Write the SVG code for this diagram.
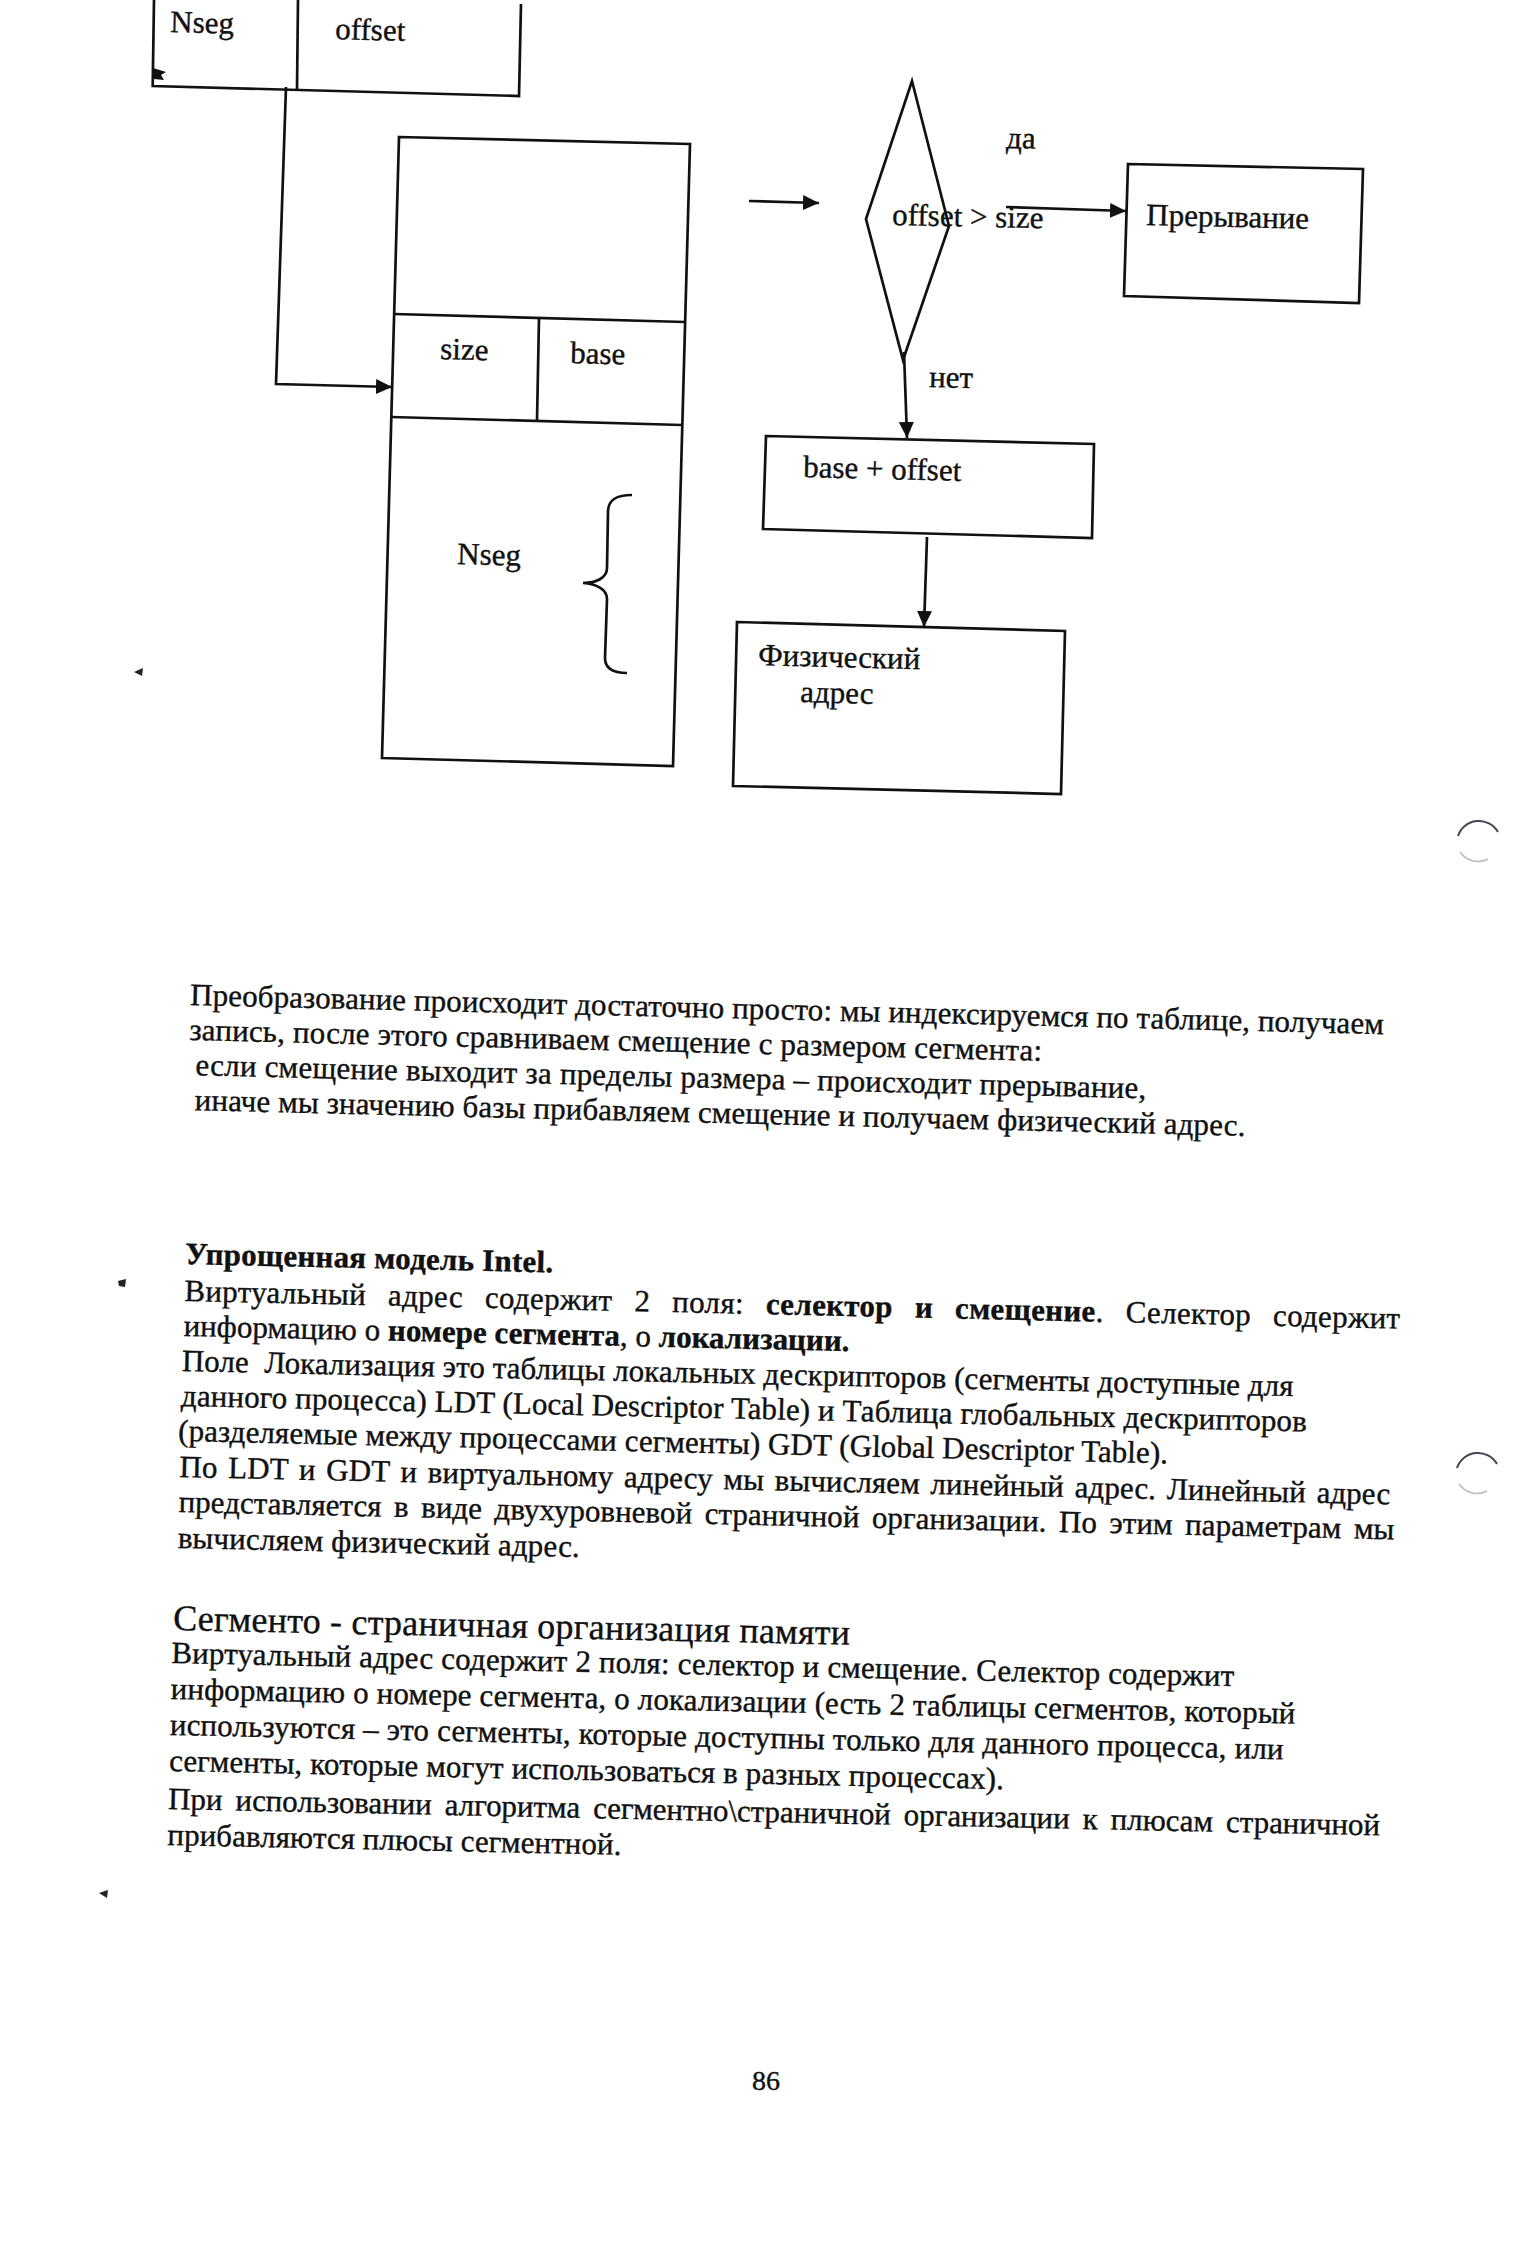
<svg xmlns="http://www.w3.org/2000/svg" width="1517" height="2241" viewBox="0 0 1517 2241">
<style>
.t{font-family:"Liberation Serif","Times New Roman","DejaVu Serif",serif;font-size:31px;fill:#111;stroke:#111;stroke-width:0.4px}
.b{font-weight:bold}
.h{font-size:36px}
.ln{fill:none;stroke:#111;stroke-width:2.7;stroke-linejoin:miter}
.pg{font-family:"Liberation Serif","Times New Roman",serif;font-size:28px;fill:#111;stroke:#111;stroke-width:0.4px}
</style>
<defs>
<marker id="arr" viewBox="0 0 16 15" refX="16" refY="7.5" markerWidth="16" markerHeight="15" markerUnits="userSpaceOnUse" orient="auto">
<path d="M0,0 L16,7.5 L0,15 z" fill="#111"/>
</marker>
</defs>
<rect x="0" y="0" width="1517" height="2241" fill="#fff"/>

<g id="address">
<path class="ln" d="M154,0 L152.7,86 L519,96 L521,4"/>
<path class="ln" d="M298,0 L297,89"/>
<path d="M153,68 L166,72 L161,75 L164,80 L154,79 z" fill="#111"/>
<text class="t" x="170" y="32" transform="rotate(1.5 170 32)">Nseg</text>
<text class="t" x="335" y="39" transform="rotate(1.5 335 39)">offset</text>
</g>

<g id="table">
<path class="ln" d="M399,137 L690,144 L673,766 L382,758 z"/>
<path class="ln" d="M394,314 L685,322"/>
<path class="ln" d="M391,417 L682,425"/>
<path class="ln" d="M539,318 L537,421"/>
<text class="t" x="440" y="359" transform="rotate(1.5 440 359)">size</text>
<text class="t" x="570" y="363" transform="rotate(1.5 570 363)">base</text>
<text class="t" x="457" y="564" transform="rotate(1.5 457 564)">Nseg</text>
<path class="ln" d="M632,495 C616,495 608,500 608,512 L607,568 C607,578 596,583 583,583 C596,584 607,589 607,599 L605,658 C605,668 613,673 627,673"/>
</g>

<g id="check">
<polygon class="ln" points="912,81 949,226 903,360 866,219"/>
<text class="t" x="892" y="225" transform="rotate(1.2 892 225)">offset &gt; size</text>
</g>

<g id="interrupt">
<polygon class="ln" points="1128,164 1363,169 1359,303 1124,296"/>
<text class="t" x="1146" y="225" transform="rotate(1.3 1146 225)">Прерывание</text>
</g>

<g id="sum">
<polygon class="ln" points="766,436 1094,444 1092,538 763,529"/>
<text class="t" x="803" y="477" transform="rotate(1.4 803 477)">base + offset</text>
</g>

<g id="physical">
<polygon class="ln" points="737,622 1065,631 1061,794 733,786"/>
<text class="t" x="758" y="665" transform="rotate(1.5 758 665)">Физический</text>
<text class="t" x="800" y="702" transform="rotate(1.5 800 702)">адрес</text>
</g>

<g id="connectors">
<path class="ln" d="M286,87 L276,384 L392,387" marker-end="url(#arr)"/>
<path class="ln" d="M749,201 L819,203" marker-end="url(#arr)"/>
<path class="ln" d="M1006,207 L1126,211" marker-end="url(#arr)"/>
<path class="ln" d="M904,352 L907,438" marker-end="url(#arr)"/>
<path class="ln" d="M927,537 L924,627" marker-end="url(#arr)"/>
<text class="t" x="1006" y="148" transform="rotate(1.3 1006 148)">да</text>
<text class="t" x="929" y="387" transform="rotate(1.3 929 387)">нет</text>
</g>

<g id="para1" transform="rotate(1.4 190 1007)">
<text class="t" x="190" y="1005" textLength="1194">Преобразование происходит достаточно просто: мы индексируемся по таблице, получаем</text>
<text class="t" x="190" y="1040" textLength="853">запись, после этого сравниваем смещение с размером сегмента:</text>
<text class="t" x="197" y="1075" textLength="951">если смещение выходит за пределы размера – происходит прерывание,</text>
<text class="t" x="197" y="1110" textLength="1051">иначе мы значению базы прибавляем смещение и получаем физический адрес.</text>
</g>

<g id="para2" transform="rotate(1.3 185 1267)">
<text class="t b" x="185" y="1264" textLength="368">Упрощенная модель Intel.</text>
<text class="t" x="185" y="1301" textLength="1216" word-spacing="14">Виртуальный адрес содержит 2 поля: <tspan class="b">селектор и смещение</tspan>. Селектор содержит</text>
<text class="t" x="185" y="1336" textLength="666">информацию о <tspan class="b">номере сегмента</tspan>, о <tspan class="b">локализации.</tspan></text>
<text class="t" x="184" y="1371" textLength="1112">Поле&#160; Локализация это таблицы локальных дескрипторов (сегменты доступные для</text>
<text class="t" x="184" y="1406" textLength="1126">данного процесса) LDT (Local Descriptor Table) и Таблица глобальных дескрипторов</text>
<text class="t" x="182" y="1441" textLength="990">(разделяемые между процессами сегменты) GDT (Global Descriptor Table).</text>
<text class="t" x="184" y="1477" textLength="1211" word-spacing="3">По LDT и GDT и виртуальному адресу мы вычисляем линейный адрес. Линейный адрес</text>
<text class="t" x="184" y="1512" textLength="1216" word-spacing="4.7">представляется в виде двухуровневой страничной организации. По этим параметрам мы</text>
<text class="t" x="184" y="1548" textLength="402">вычисляем физический адрес.</text>
</g>

<g id="para3" transform="rotate(1.25 173 1628)">
<text class="t h" x="173" y="1630" textLength="677">Сегменто - страничная организация памяти</text>
<text class="t" x="172" y="1663" textLength="1063">Виртуальный адрес содержит 2 поля: селектор и смещение. Селектор содержит</text>
<text class="t" x="172" y="1699" textLength="1125">информацию о номере сегмента, о локализации (есть 2 таблицы сегментов, который</text>
<text class="t" x="172" y="1735" textLength="1114">используются – это сегменты, которые доступны только для данного процесса, или</text>
<text class="t" x="172" y="1771" textLength="835">сегменты, которые могут использоваться в разных процессах).</text>
<text class="t" x="172" y="1809" textLength="1212" word-spacing="5.3">При использовании алгоритма сегментно\страничной организации к плюсам страничной</text>
<text class="t" x="172" y="1845" textLength="454">прибавляются плюсы сегментной.</text>
</g>

<text class="pg" x="752" y="2090">86</text>

<g id="marks">
<path d="M134,672 L143,668 L142,676 z" fill="#222"/>
<path d="M118,1281 L126,1279 L125,1287 L119,1286 z" fill="#222"/>
<path d="M99,1893 L108,1890 L107,1898 z" fill="#222"/>
<path d="M1458,836 A22,22 0 0 1 1498,832" fill="none" stroke="#445" stroke-width="2"/>
<path d="M1460,852 A22,22 0 0 0 1488,859" fill="none" stroke="#bbb" stroke-width="1.5"/>
<path d="M1457,1468 A22,22 0 0 1 1497,1464" fill="none" stroke="#445" stroke-width="2"/>
<path d="M1459,1484 A22,22 0 0 0 1487,1491" fill="none" stroke="#bbb" stroke-width="1.5"/>
</g>
</svg>
